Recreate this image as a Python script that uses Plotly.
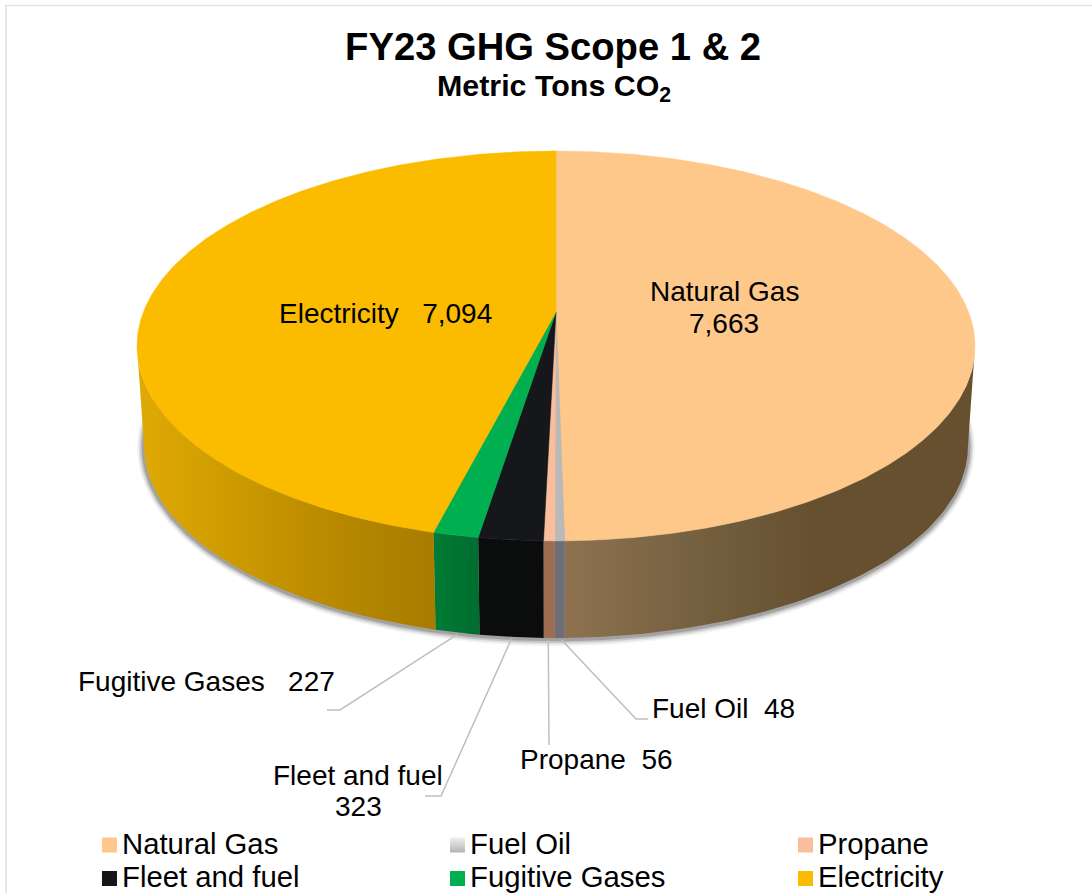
import numpy as np
import plotly.graph_objects as go

categories = ["Natural Gas", "Fuel Oil", "Propane", "Fleet and fuel", "Fugitive Gases", "Electricity"]
values = [7663, 48, 56, 323, 227, 7094]
top_colors = ["#FEC88A", "#B9B9B9", "#FBBE9C", "#15171A", "#00B050", "#FBBC00"]
wall_colors = [
    ["#8E7250", "#74603F", "#66502F", "#66502F"],
    ["#6D6E78", "#6D6E78"],
    ["#9E6C4E", "#9E6C4E"],
    ["#0B0D0D", "#0B0D0D"],
    ["#007C35", "#006D30"],
    ["#E0AA05", "#CC9A00", "#B88800", "#A87C00"],
]
TEXT_FONT = "Liberation Sans, Arial"

# perspective disc: projective map of a unit circle onto the page
CX, CY, A, B, K = 556, 312, 412.6, 189.0, 0.1743
WALL_SCALE, WALL_DROP = 0.983, 101
SILHOUETTE = float(np.degrees(np.arccos(-K)))  # angle of the disc's widest point


def project(theta, scale=1.0, drop=0.0):
    t = np.radians(theta)
    u, v = np.sin(t), -np.cos(t)
    w = 1 - K * v
    return CX + scale * A * u / w, CY + drop + scale * B * v / w


total = sum(values)
edges = np.concatenate([[0], np.cumsum(values)]) / total * 360

fig = go.Figure()


def poly(x, y, color=None, gradient=None, name=None, lw=0.0, line=None):
    t = dict(x=list(x), y=list(y), mode="lines", fill="toself", showlegend=False,
             hoverinfo="text" if name else "skip", text=name,
             line=dict(width=lw, color=line or color or "rgba(0,0,0,0)"))
    if gradient:
        t["fillgradient"] = gradient
    else:
        t["fillcolor"] = color
    fig.add_trace(go.Scatter(**t))


# soft drop shadow under the wall
circle = np.linspace(0, 360, 361)
for grow, op in [(7, 0.06), (5.5, 0.10), (4, 0.16), (2.5, 0.26)]:
    sx, sy = project(circle, WALL_SCALE, WALL_DROP)
    sx = CX + (sx - CX) * (1 + grow / 412)
    sy = sy.mean() + (sy - sy.mean()) * (1 + grow / 190)
    poly(sx, sy + 0.5, color=f"rgba(60,60,60,{op})")

# side walls, clipped to the visible front half
for i in range(len(values)):
    a0, a1 = max(edges[i], SILHOUETTE), min(edges[i + 1], 360 - SILHOUETTE)
    if a1 <= a0:
        continue
    th = np.linspace(a0, a1, 80)
    x1, y1 = project(th)
    x2, y2 = project(th[::-1], WALL_SCALE, WALL_DROP)
    xs = np.concatenate([x1, x2])
    ys = np.concatenate([y1, y2])
    lo, hi = float(xs.min()), float(xs.max())
    cols = wall_colors[i]
    scale = [[j / (len(cols) - 1), c] for j, c in enumerate(cols)]
    if categories[i] == "Natural Gas":
        scale = [[0, cols[0]], [0.33, cols[1]], [0.6, cols[2]], [1, cols[3]]]
    poly(xs, ys, gradient=dict(type="horizontal", colorscale=scale, start=lo, stop=hi),
         name=f"{categories[i]}: {values[i]:,}")

# top faces
for i in range(len(values)):
    th = np.linspace(edges[i], edges[i + 1], max(3, int(edges[i + 1] - edges[i]) * 2))
    x, y = project(th)
    poly(np.r_[CX, x, CX], np.r_[CY, y, CY], color=top_colors[i], lw=0.5,
         name=f"{categories[i]}: {values[i]:,}")

# leader lines, from each small slice's mid-angle on the lower rim to its label
leaders = {1: [(636, 719), (648, 719)], 2: [(549, 745)], 3: [(441, 796), (425, 796)], 4: [(340, 710), (327, 710)]}
for i, pts in leaders.items():
    x0, y0 = project((edges[i] + edges[i + 1]) / 2, WALL_SCALE, WALL_DROP)
    fig.add_trace(go.Scatter(x=[x0 + (2 if i == 1 else -1 if i == 2 else 0)] + [p[0] for p in pts], y=[y0 + 2] + [p[1] for p in pts],
                             mode="lines", line=dict(color="#BFBFBF", width=1.5),
                             hoverinfo="skip", showlegend=False))

# custom legend: three columns by two rows
for i, name in enumerate(categories):
    col, row = i % 3, i // 3
    marker = dict(symbol="square", size=15, color=top_colors[i], line=dict(width=0))
    if name == "Fuel Oil":
        marker = dict(symbol="square", size=15, color="#F0F0F0", line=dict(width=0),
                      gradient=dict(type="vertical", color="#B4B4B4"))
    fig.add_trace(go.Scatter(x=[109.5 + col * 348], y=[845 + row * 33.5], mode="markers", marker=marker,
                             name=name, hoverinfo="name", showlegend=False))
    fig.add_annotation(x=120 + col * 348, y=843.5 + row * 33, xref="x", yref="y", showarrow=False,
                       xanchor="left", yanchor="middle", text=name,
                       font=dict(family=TEXT_FONT, size=29.3, color="#000000"))

# data labels: each line placed on its own so the line spacing follows the reference
label_lines = [
    (724, 291, categories[0]), (724, 323, f"{values[0]:,}"),
    (723, 708, f"{categories[1]}\u00a0\u00a0{values[1]:,}"),
    (596, 759.5, f"{categories[2]}\u00a0\u00a0{values[2]:,}"),
    (358, 775, categories[3]), (358, 806, f"{values[3]:,}"),
    (206, 681, f"{categories[4]}\u00a0\u00a0\u00a0{values[4]:,}"),
    (385, 313, f"{categories[5]}\u00a0\u00a0\u00a0{values[5]:,}"),
]
for px, py, txt in label_lines:
    fig.add_annotation(x=px, y=py, xref="x", yref="y", showarrow=False, text=txt,
                       font=dict(family=TEXT_FONT, size=28, color="#000000"))

# subtitle
fig.add_annotation(x=553.5, y=87, xref="x", yref="y", showarrow=False,
                   text="<b>Metric Tons CO<sub>2</sub></b>",
                   font=dict(family=TEXT_FONT, size=30.4, color="#000000"))

# chart-area frame: only the top and left edges are visible in the reference
fig.add_shape(type="line", x0=6, y0=5, x1=6, y1=893, line=dict(color="#E6E6E6", width=2), layer="below")
fig.add_shape(type="line", x0=5, y0=5.5, x1=1092, y1=5.5, line=dict(color="#E6E6E6", width=1.3), layer="below")

fig.update_layout(
    width=1092, height=893, margin=dict(l=0, r=0, t=0, b=0),
    paper_bgcolor="#FFFFFF", plot_bgcolor="#FFFFFF", showlegend=False,
    font=dict(family=TEXT_FONT, color="#000000"),
    title=dict(text="<b>FY23 GHG Scope 1 &amp; 2</b>", x=0.5065, xanchor="center", y=0.933, yanchor="bottom", yref="container",
               font=dict(size=38.2, color="#000000")),
    xaxis=dict(range=[0, 1092], visible=False, fixedrange=True),
    yaxis=dict(range=[893, 0], visible=False, fixedrange=True),
)

fig.write_html("out.html", config=dict(displayModeBar=False), post_script="document.body.style.margin='0';")
